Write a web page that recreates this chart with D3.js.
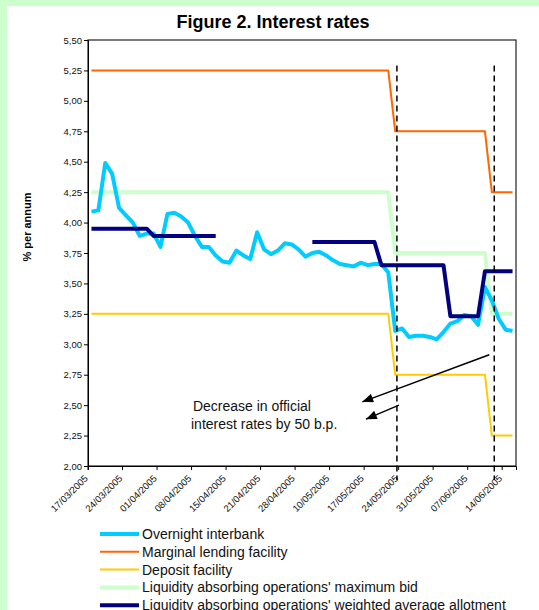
<!DOCTYPE html>
<html>
<head>
<meta charset="utf-8">
<script src="https://cdn.jsdelivr.net/npm/d3@7/dist/d3.min.js"></script>
<style>
  html, body { margin: 0; padding: 0; background: #ccffcc; }
  svg { display: block; }
  text { font-family: Arial, "Liberation Sans", sans-serif; }
</style>
</head>
<body>
<script>
// Business days shown on the category axis
const dates = [
  "17/03/2005","18/03/2005","21/03/2005","22/03/2005","23/03/2005","24/03/2005","25/03/2005","29/03/2005",
  "30/03/2005","31/03/2005","01/04/2005","04/04/2005","05/04/2005","06/04/2005","07/04/2005","08/04/2005",
  "11/04/2005","12/04/2005","13/04/2005","14/04/2005","15/04/2005","16/04/2005","18/04/2005","19/04/2005",
  "20/04/2005","21/04/2005","22/04/2005","25/04/2005","26/04/2005","27/04/2005","28/04/2005","03/05/2005",
  "04/05/2005","05/05/2005","06/05/2005","10/05/2005","11/05/2005","12/05/2005","13/05/2005","16/05/2005",
  "17/05/2005","18/05/2005","19/05/2005","20/05/2005","23/05/2005","24/05/2005","25/05/2005","26/05/2005",
  "27/05/2005","30/05/2005","31/05/2005","01/06/2005","02/06/2005","03/06/2005","06/06/2005","07/06/2005",
  "08/06/2005","09/06/2005","10/06/2005","13/06/2005","14/06/2005","15/06/2005"
];

const overnight = [
  4.09, 4.10, 4.49, 4.40, 4.12, 4.06, 4.00, 3.89, 3.91, 3.91, 3.80, 4.07, 4.08, 4.05, 4.00, 3.89,
  3.80, 3.80, 3.73, 3.68, 3.67, 3.77, 3.73, 3.70, 3.92, 3.78, 3.74, 3.77, 3.83, 3.82, 3.78, 3.72,
  3.75, 3.76, 3.73, 3.69, 3.66, 3.65, 3.64, 3.67, 3.65, 3.66, 3.66, 3.59, 3.11, 3.13, 3.06, 3.07,
  3.07, 3.06, 3.04, 3.10, 3.17, 3.19, 3.24, 3.23, 3.16, 3.47, 3.36, 3.21, 3.12, 3.11
];

const marginalLending = [
  5.25, 5.25, 5.25, 5.25, 5.25, 5.25, 5.25, 5.25, 5.25, 5.25, 5.25, 5.25, 5.25, 5.25, 5.25, 5.25,
  5.25, 5.25, 5.25, 5.25, 5.25, 5.25, 5.25, 5.25, 5.25, 5.25, 5.25, 5.25, 5.25, 5.25, 5.25, 5.25,
  5.25, 5.25, 5.25, 5.25, 5.25, 5.25, 5.25, 5.25, 5.25, 5.25, 5.25, 5.25, 4.75, 4.75, 4.75, 4.75,
  4.75, 4.75, 4.75, 4.75, 4.75, 4.75, 4.75, 4.75, 4.75, 4.75, 4.25, 4.25, 4.25, 4.25
];

const depositFacility = [
  3.25, 3.25, 3.25, 3.25, 3.25, 3.25, 3.25, 3.25, 3.25, 3.25, 3.25, 3.25, 3.25, 3.25, 3.25, 3.25,
  3.25, 3.25, 3.25, 3.25, 3.25, 3.25, 3.25, 3.25, 3.25, 3.25, 3.25, 3.25, 3.25, 3.25, 3.25, 3.25,
  3.25, 3.25, 3.25, 3.25, 3.25, 3.25, 3.25, 3.25, 3.25, 3.25, 3.25, 3.25, 2.75, 2.75, 2.75, 2.75,
  2.75, 2.75, 2.75, 2.75, 2.75, 2.75, 2.75, 2.75, 2.75, 2.75, 2.25, 2.25, 2.25, 2.25
];

const maximumBid = [
  4.25, 4.25, 4.25, 4.25, 4.25, 4.25, 4.25, 4.25, 4.25, 4.25, 4.25, 4.25, 4.25, 4.25, 4.25, 4.25,
  4.25, 4.25, 4.25, 4.25, 4.25, 4.25, 4.25, 4.25, 4.25, 4.25, 4.25, 4.25, 4.25, 4.25, 4.25, 4.25,
  4.25, 4.25, 4.25, 4.25, 4.25, 4.25, 4.25, 4.25, 4.25, 4.25, 4.25, 4.25, 3.75, 3.75, 3.75, 3.75,
  3.75, 3.75, 3.75, 3.75, 3.75, 3.75, 3.75, 3.75, 3.75, 3.75, 3.25, 3.25, 3.25, 3.25
];

// null = no liquidity absorbing operation held
const weightedAllotment = [
  3.95, 3.95, 3.95, 3.95, 3.95, 3.95, 3.95, 3.95, 3.95, 3.89, 3.89, 3.89, 3.89, 3.89, 3.89, 3.89,
  3.89, 3.89, 3.89, null, null, null, null, null, null, null, null, null, null, null, null, null,
  3.84, 3.84, 3.84, 3.84, 3.84, 3.84, 3.84, 3.84, 3.84, 3.84, 3.65, 3.65, 3.65, 3.65, 3.65, 3.65,
  3.65, 3.65, 3.65, 3.65, 3.23, 3.23, 3.23, 3.23, 3.23, 3.60, 3.60, 3.60, 3.60, 3.60
];

const yTicks = [2.00, 2.25, 2.50, 2.75, 3.00, 3.25, 3.50, 3.75, 4.00, 4.25, 4.50, 4.75, 5.00, 5.25, 5.50];
const labelEvery = 5;

// Official rate decisions (fractional category position)
const rateCuts = [44.25, 58.35];

const series = [
  { name: "Liquidity absorbing operations' maximum bid", values: maximumBid, color: "#ccffcc", width: 4, order: 3 },
  { name: "Marginal lending facility", values: marginalLending, color: "#ff6600", width: 2, order: 1 },
  { name: "Deposit facility", values: depositFacility, color: "#ffcc00", width: 2, order: 2 },
  { name: "Overnight interbank", values: overnight, color: "#00ccff", width: 4, order: 0 },
  { name: "Liquidity absorbing operations' weighted average allotment", values: weightedAllotment, color: "#000080", width: 4, order: 4 }
];

const W = 539, H = 610;
const plot = { left: 88, right: 516, top: 40, bottom: 466 };

const svg = d3.select("body").append("svg").attr("width", W).attr("height", H);

// white chart panel
svg.append("rect").attr("x", 7).attr("y", 6).attr("width", W - 7).attr("height", H - 6).attr("fill", "#fff");

svg.append("text")
  .attr("x", 273).attr("y", 28)
  .attr("text-anchor", "middle")
  .attr("font-size", 18).attr("font-weight", "bold")
  .text("Figure 2. Interest rates");

const x = d3.scaleBand().domain(d3.range(dates.length)).range([plot.left, plot.right]).padding(0);
const bw = x.bandwidth();
const xc = i => x(i) + bw / 2;
const xPos = p => plot.left + (p + 0.5) * bw;
const y = d3.scaleLinear().domain([2, 5.5]).range([plot.bottom, plot.top]);

// plot frame
svg.append("rect")
  .attr("x", plot.left).attr("y", plot.top)
  .attr("width", plot.right - plot.left).attr("height", plot.bottom - plot.top)
  .attr("fill", "none").attr("stroke", "#222").attr("stroke-width", 1.2);

// y axis
const yAxis = svg.append("g")
  .attr("transform", `translate(${plot.left},0)`)
  .call(d3.axisLeft(y).tickValues(yTicks).tickSize(4).tickPadding(2)
    .tickFormat(d => d.toFixed(2).replace(".", ",")));
yAxis.select(".domain").attr("stroke", "#000");
yAxis.selectAll("text").attr("font-size", 9.5).attr("fill", "#111").attr("font-family", "Arial, 'Liberation Sans', sans-serif");

svg.append("text")
  .attr("transform", "translate(31,227) rotate(-90)")
  .attr("text-anchor", "middle")
  .attr("font-size", 11).attr("font-weight", "bold")
  .text("% per annum");

// x axis: ticks on category boundaries, labels at category centres
const xAxis = svg.append("g")
  .attr("transform", `translate(0,${plot.bottom})`)
  .call(d3.axisBottom(x)
    .tickValues(d3.range(0, dates.length, labelEvery))
    .tickSize(4).tickFormat(i => dates[i]));
xAxis.select(".domain").attr("stroke", "#000");
xAxis.selectAll(".tick line").attr("x1", -bw / 2).attr("x2", -bw / 2);
xAxis.selectAll(".tick text")
  .attr("font-size", 9.5).attr("fill", "#111").attr("font-family", "Arial, 'Liberation Sans', sans-serif")
  .attr("text-anchor", "end")
  .attr("y", 0).attr("dy", 0)
  .attr("transform", "translate(-3,13) rotate(-45)");

// series lines
const line = d3.line()
  .defined(d => d != null)
  .x((d, i) => xc(i))
  .y(d => y(d));

svg.append("g").selectAll("path")
  .data(series)
  .join("path")
  .attr("d", s => line(s.values))
  .attr("fill", "none")
  .attr("stroke", s => s.color)
  .attr("stroke-width", s => s.width)
  .attr("stroke-linejoin", "round");

// vertical markers at the rate decisions
svg.append("g").selectAll("line")
  .data(rateCuts)
  .join("line")
  .attr("x1", p => xPos(p)).attr("x2", p => xPos(p))
  .attr("y1", y(5.29)).attr("y2", plot.bottom + 14)
  .attr("stroke", "#000").attr("stroke-width", 1.5)
  .attr("stroke-dasharray", "6,4");

// annotation
const note = [
  { text: "Decrease in official", pos: 14.7, value: 2.455 },
  { text: "interest rates by 50 b.p.", pos: 14.42, value: 2.30 }
];
svg.append("g").selectAll("text")
  .data(note)
  .join("text")
  .attr("x", d => xPos(d.pos)).attr("y", d => y(d.value))
  .attr("font-size", 14).attr("fill", "#111")
  .text(d => d.text);

const arrows = [
  { from: [57.63, 2.914], to: [39.24, 2.527] },
  { from: [44.55, 2.50], to: [39.77, 2.385] }
];
svg.append("defs").append("marker")
  .attr("id", "head2")
  .attr("viewBox", "0 0 12 10")
  .attr("refX", 12).attr("refY", 5)
  .attr("markerWidth", 13).attr("markerHeight", 9)
  .attr("markerUnits", "userSpaceOnUse")
  .attr("orient", "auto")
  .append("path").attr("d", "M0,0 L12,5 L0,10 Z").attr("fill", "#000");
svg.append("g").selectAll("line")
  .data(arrows)
  .join("line")
  .attr("x1", d => xPos(d.from[0])).attr("y1", d => y(d.from[1]))
  .attr("x2", d => xPos(d.to[0])).attr("y2", d => y(d.to[1]))
  .attr("stroke", "#000").attr("stroke-width", 1.5)
  .attr("marker-end", "url(#head2)");

// legend
const legendOrder = series.slice().sort((a, b) => a.order - b.order);
const legend = svg.append("g").selectAll("g")
  .data(legendOrder)
  .join("g")
  .attr("transform", (d, i) => `translate(100,${534 + i * 17.8})`);
legend.append("line")
  .attr("x1", 0).attr("x2", 39).attr("y1", 0).attr("y2", 0)
  .attr("stroke", d => d.color).attr("stroke-width", d => d.width);
legend.append("text")
  .attr("x", 42).attr("y", 5)
  .attr("font-size", 14).attr("fill", "#111")
  .text(d => d.name);
</script>
</body>
</html>
